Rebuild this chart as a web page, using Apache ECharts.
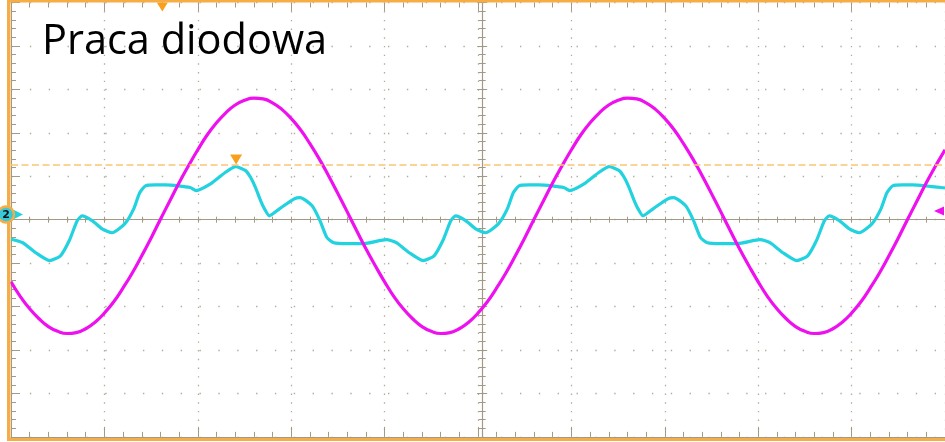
<!DOCTYPE html>
<html>
<head>
<meta charset="utf-8">
<script src="https://cdn.jsdelivr.net/npm/echarts@6/dist/echarts.min.js"></script>
<style>
  html, body { margin: 0; padding: 0; background: #ffffff; }
  #scope { width: 945px; height: 442px; }
</style>
</head>
<body>
<div id="scope"></div>
<script>
// Screen: 10 divisions across at 5 ms/div, 10 divisions tall (values in divisions)
const timeMin = -25, timeMax = 25, timePerDiv = 5;
const levelMin = -5, levelMax = 5;

// CH1 (magenta), sampled every 0.5 ms starting at -25 ms
const ch1Start = -25, ch1Step = 0.5;
const ch1Level = [
  -1.43, -1.77, -2.05, -2.28, -2.46, -2.57, -2.62, -2.60, -2.51, -2.36, -2.15, -1.89, -1.57, -1.22, -0.83, -0.42, 0.01,
  0.43, 0.85, 1.24, 1.61, 1.95, 2.23, 2.46, 2.64, 2.75, 2.80, 2.78, 2.69, 2.54, 2.33, 2.07, 1.75, 1.40, 1.01, 0.60, 0.18,
  -0.25, -0.67, -1.06, -1.43, -1.77, -2.05, -2.28, -2.46, -2.57, -2.62, -2.60, -2.51, -2.36, -2.15, -1.89, -1.57, -1.22, -0.83, -0.42, 0.01,
  0.43, 0.85, 1.24, 1.61, 1.95, 2.23, 2.46, 2.64, 2.75, 2.80, 2.78, 2.69, 2.54, 2.33, 2.07, 1.75, 1.40, 1.01, 0.60, 0.18,
  -0.25, -0.67, -1.06, -1.43, -1.77, -2.05, -2.28, -2.46, -2.57, -2.62, -2.60, -2.51, -2.36, -2.15, -1.89, -1.57, -1.22, -0.83, -0.42, 0.01,
  0.43, 0.85, 1.24, 1.61
];

// CH2 (cyan), time in ms and level in divisions
const ch2Time = [
  -25.00, -24.37, -23.68, -22.94, -22.35, -21.88, -21.45, -21.19, -20.66, -20.12, -19.59, -18.90, -18.43, -18.11,
  -17.80, -17.27, -16.74, -16.05, -15.41, -15.09, -14.30, -13.55, -12.97, -12.44, -12.17, -11.91, -11.64, -11.43, -11.17,
  -10.63, -9.84, -9.52, -8.88, -8.46, -8.09, -7.72, -7.02, -6.12, -4.90, -4.37, -3.68, -2.94, -2.35, -1.88, -1.45, -1.19,
  -0.66, -0.12, 0.41, 1.10, 1.57, 1.89,
  2.20, 2.73, 3.26, 3.95, 4.59, 4.91, 5.70, 6.45, 7.03, 7.56, 7.83, 8.09, 8.36, 8.57, 8.83,
  9.37, 10.16, 10.48, 11.12, 11.54, 11.91, 12.28, 12.98, 13.88, 15.10, 15.63, 16.32, 17.06, 17.65, 18.12, 18.55, 18.81,
  19.34, 19.88, 20.41, 21.10, 21.57, 21.89,
  22.20, 22.73, 23.26, 23.95, 24.59, 25.00
];
const ch2Level = [
  -0.45, -0.53, -0.76, -0.94, -0.83, -0.48, -0.02, 0.09, -0.02, -0.21, -0.30, -0.09, 0.25, 0.62,
  0.78, 0.80, 0.80, 0.78, 0.74, 0.67, 0.83, 1.08, 1.22, 1.13, 0.97, 0.74, 0.44, 0.25, 0.09,
  0.25, 0.48, 0.51, 0.32, -0.02, -0.41, -0.53, -0.55, -0.55, -0.46, -0.53, -0.76, -0.94, -0.83, -0.48, -0.02, 0.09,
  -0.02, -0.21, -0.30, -0.09, 0.25, 0.62,
  0.78, 0.80, 0.80, 0.78, 0.74, 0.67, 0.83, 1.08, 1.22, 1.13, 0.97, 0.74, 0.44, 0.25, 0.09,
  0.25, 0.48, 0.51, 0.32, -0.02, -0.41, -0.53, -0.55, -0.55, -0.46, -0.53, -0.76, -0.94, -0.83, -0.48, -0.02, 0.09,
  -0.02, -0.21, -0.30, -0.09, 0.25, 0.62,
  0.78, 0.80, 0.80, 0.78, 0.75, 0.73
];

// Trigger and reference markers
const triggerTime = -16.9;
const triggerLevel = 1.27;
const cursorTime = -12.95;
const ch1Ground = 0.20;
const ch2Ground = 0.12;
const titleText = 'Praca diodowa';

const ch1Color = '#ee10ee';
const ch2Color = '#22d2de';
const frameColor = '#f7ad45';
const markerColor = '#f8a01e';
const tickColor = '#a39a86';
const dotColor = '#b3ab9b';

const ch1Data = ch1Level.map((v, i) => [ch1Start + i * ch1Step, v]);
const ch2Data = ch2Time.map((t, i) => [t, ch2Level[i]]);

const chart = echarts.init(document.getElementById('scope'), null, { renderer: 'canvas' });

const tickLine = { color: tickColor, width: 1 };

function xAxisBase(extra) {
  return Object.assign({
    type: 'value', min: timeMin, max: timeMax, interval: timePerDiv,
    axisLabel: { show: false },
    splitLine: { show: false },
    axisLine: { show: false, onZero: false }
  }, extra);
}
function yAxisBase(extra) {
  return Object.assign({
    type: 'value', min: levelMin, max: levelMax, interval: 1,
    axisLabel: { show: false },
    splitLine: { show: false },
    axisLine: { show: false, onZero: false }
  }, extra);
}

const centerX = -217.2;  // offset that moves a bottom axis to mid-height
const centerY = -471.2;  // offset that moves a left axis to mid-width

chart.setOption({
  animation: false,
  backgroundColor: '#ffffff',
  grid: { left: 11, right: -8.4, top: 2.5, bottom: 5.1, containLabel: false },
  xAxis: [
    xAxisBase({
      position: 'bottom',
      axisLine: { show: true, onZero: false, lineStyle: tickLine },
      axisTick: { show: true, inside: true, length: 10, lineStyle: tickLine },
      minorTick: { show: true, splitNumber: 5, length: 5, lineStyle: tickLine },
      splitLine: { show: true, lineStyle: { color: dotColor, width: 1.3, type: [1.4, 7.29] } }
    }),
    xAxisBase({
      position: 'top',
      axisTick: { show: true, inside: true, length: 9, lineStyle: tickLine },
      minorTick: { show: true, splitNumber: 5, length: 5, lineStyle: tickLine }
    }),
    xAxisBase({
      position: 'bottom', offset: centerX,
      axisLine: { show: true, onZero: false, lineStyle: { color: tickColor, width: 1.2 } },
      axisTick: { show: true, inside: false, length: 3, lineStyle: tickLine },
      minorTick: { show: true, splitNumber: 5, length: 3, lineStyle: tickLine }
    }),
    xAxisBase({
      position: 'bottom', offset: centerX,
      axisTick: { show: true, inside: true, length: 3, lineStyle: tickLine },
      minorTick: { show: true, splitNumber: 5, length: 3, lineStyle: tickLine }
    })
  ],
  yAxis: [
    yAxisBase({
      position: 'left',
      axisLine: { show: true, onZero: false, lineStyle: tickLine },
      axisTick: { show: true, inside: true, length: 9, lineStyle: tickLine },
      minorTick: { show: true, splitNumber: 5, length: 5, lineStyle: tickLine },
      splitLine: { show: true, lineStyle: { color: dotColor, width: 1.3, type: [1.4, 17.45] } }
    }),
    yAxisBase({
      position: 'left', offset: centerY,
      axisLine: { show: true, onZero: false, lineStyle: { color: tickColor, width: 1.2 } },
      axisTick: { show: true, inside: false, length: 5, lineStyle: tickLine },
      minorTick: { show: true, splitNumber: 5, length: 3.5, lineStyle: tickLine }
    }),
    yAxisBase({
      position: 'left', offset: centerY,
      axisTick: { show: true, inside: true, length: 5, lineStyle: tickLine },
      minorTick: { show: true, splitNumber: 5, length: 3.5, lineStyle: tickLine }
    })
  ],
  series: [
    {
      name: 'CH2',
      type: 'line',
      xAxisIndex: 0, yAxisIndex: 0,
      data: ch2Data,
      showSymbol: false,
      smooth: 0.2,
      lineStyle: { color: ch2Color, width: 3.2 },
      z: 3,
      markLine: {
        silent: true,
        symbol: 'none',
        label: { show: false },
        lineStyle: { color: '#fcc575', width: 1.6, type: [7, 3.5] },
        data: [{ yAxis: triggerLevel }]
      },
      markPoint: {
        silent: true,
        symbol: 'triangle',
        symbolSize: [12, 10],
        symbolRotate: 180,
        symbolOffset: [0, -5],
        label: { show: false },
        itemStyle: { color: markerColor },
        data: [{ coord: [cursorTime, triggerLevel] }]
      }
    },
    {
      name: 'CH1',
      type: 'line',
      xAxisIndex: 0, yAxisIndex: 0,
      data: ch1Data,
      showSymbol: false,
      smooth: true,
      lineStyle: { color: ch1Color, width: 3.2 },
      z: 4,
      markPoint: {
        silent: true,
        symbol: 'triangle',
        symbolSize: [11, 9],
        symbolRotate: 180,
        symbolOffset: [0, 4.5],
        label: { show: false },
        itemStyle: { color: markerColor },
        data: [{ coord: [triggerTime, levelMax] }]
      }
    }
  ]
});

// Frame, channel markers and title, placed from the grid's own coordinates
const left = chart.convertToPixel({ gridIndex: 0 }, [timeMin, 0])[0];
const ch2Y = chart.convertToPixel({ gridIndex: 0 }, [0, ch2Ground])[1];
const ch1Y = chart.convertToPixel({ gridIndex: 0 }, [0, ch1Ground])[1];
const bottomY = chart.convertToPixel({ gridIndex: 0 }, [0, levelMin])[1];
const W = chart.getWidth();

chart.setOption({
  graphic: [
    { type: 'rect', z: 50, shape: { x: left - 4, y: 0, width: 3.5, height: bottomY + 4 }, style: { fill: frameColor } },
    { type: 'rect', z: 50, shape: { x: left - 4, y: 0, width: W, height: 2.5 }, style: { fill: frameColor } },
    { type: 'rect', z: 50, shape: { x: left - 4, y: bottomY + 1, width: W, height: 3 }, style: { fill: frameColor } },
    {
      type: 'polygon', z: 60,
      shape: { points: [[left + 3, ch2Y - 4.5], [left + 12, ch2Y], [left + 3, ch2Y + 4.5]] },
      style: { fill: ch2Color }
    },
    {
      type: 'circle', z: 61,
      shape: { cx: left - 5, cy: ch2Y, r: 8 },
      style: { fill: '#35c9dc', stroke: frameColor, lineWidth: 2.4 }
    },
    {
      type: 'text', z: 62, x: left - 5, y: ch2Y + 0.5,
      style: {
        text: '2', fill: '#111111', font: 'bold 11px "DejaVu Sans"',
        align: 'center', verticalAlign: 'middle', textAlign: 'center', textVerticalAlign: 'middle'
      }
    },
    {
      type: 'polygon', z: 60,
      shape: { points: [[W - 11, ch1Y], [W - 1, ch1Y - 4.5], [W - 1, ch1Y + 4.5]] },
      style: { fill: ch1Color }
    },
    {
      type: 'text', z: 40, x: 42, y: 42,
      style: {
        text: titleText, fill: '#000000', font: '41.5px "Open Sans"',
        align: 'left', verticalAlign: 'middle', textAlign: 'left', textVerticalAlign: 'middle'
      }
    }
  ]
});
</script>
</body>
</html>
